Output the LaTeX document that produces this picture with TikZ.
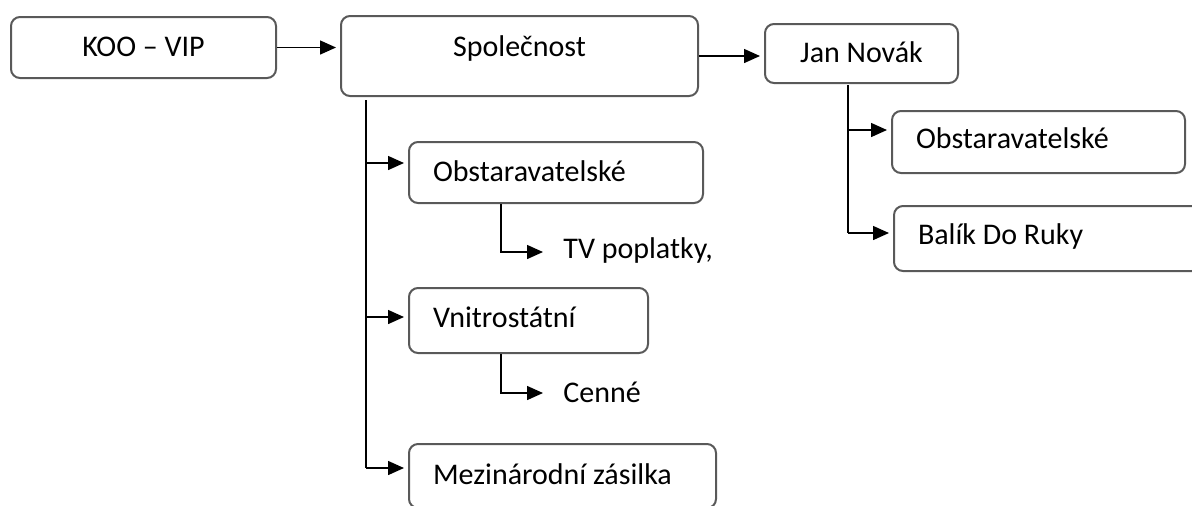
\documentclass[tikz,border=0pt]{standalone}
\usepackage{fontspec}
\setmainfont{Carlito}
\usetikzlibrary{arrows.meta}

\begin{document}
\begin{tikzpicture}[x=0.5pt, y=-0.5pt,
    box/.style={draw=black!65, line width=1pt, rounded corners=4.5pt, anchor=north west,
      inner ysep=0pt, inner xsep=12pt, align=flush left, text height=19.5pt,
      font=\fontsize{15}{18}\selectfont},
    leaf/.style={anchor=base west, inner xsep=10pt, font=\fontsize{15}{18}\selectfont},
    link/.style={line width=0.75pt},
    arr/.style={link, -{Triangle[length=8pt, width=7pt]}, shorten >=2pt}]
    \useasboundingbox (0,0) rectangle (1192,505);

    % ノード
    \node[box, inner xsep=0pt, align=flush center, text width=132.5pt, text depth=11pt] (koo) at (10,16) {KOO – VIP};
    \node[box, inner xsep=0pt, align=flush center, text width=178.5pt, text height=20pt, text depth=20pt] (spol) at (340,15) {Společnost};
    \node[box, inner xsep=0pt, align=flush center, text width=96.5pt, text height=19pt, text depth=10.5pt] (jan) at (764,23) {Jan Novák};
    \node[box, text width=123pt, text depth=11pt] (obs1) at (408,141) {Obstaravatelské};
    \node[box, text width=95.5pt, text depth=13pt] (vni) at (408,287) {Vnitrostátní};
    \node[box, text width=129.5pt, text height=20pt, text depth=12pt] (mez) at (408,443) {Mezinárodní zásilka};
    \node[box, text width=122.5pt, text height=18.5pt, text depth=12.5pt] (obs2) at (891,110) {Obstaravatelské};
    \node[box, text width=129.5pt, text height=19pt, text depth=13.5pt] (bal) at (893,205) {Balík Do Ruky};
    \node[leaf] (tv) at (543,258) {TV poplatky,};
    \node[leaf] (cen) at (543,402) {Cenné};

    \coordinate (t0) at (366,100);
    \coordinate (t1) at (366,163);
    \coordinate (t2) at (366,317);
    \coordinate (t3) at (366,468);
    \coordinate (u1) at (501,252);
    \coordinate (u2) at (501,393);
    \coordinate (r0) at (848,85);
    \coordinate (r1) at (848,130);
    \coordinate (r2) at (848,233);

    % エッジ
    \draw[arr] (koo.east) -- (koo.east -| spol.west);
    \draw[arr] (spol.east) -- (spol.east -| jan.west);
    \draw[link] (t0) -- (t3);
    \draw[arr] (t1) -- (obs1.west |- t1);
    \draw[arr] (t2) -- (vni.west |- t2);
    \draw[arr] (t3) -- (mez.west |- t3);
    \draw[arr, shorten >=0pt] (obs1.south -| u1) -- (u1) -- (tv.west |- u1);
    \draw[arr, shorten >=0pt] (vni.south -| u2) -- (u2) -- (cen.west |- u2);
    \draw[link] (r0) -- (r2);
    \draw[arr] (r1) -- (obs2.west |- r1);
    \draw[arr] (r2) -- (bal.west |- r2);
\end{tikzpicture}
\end{document}
